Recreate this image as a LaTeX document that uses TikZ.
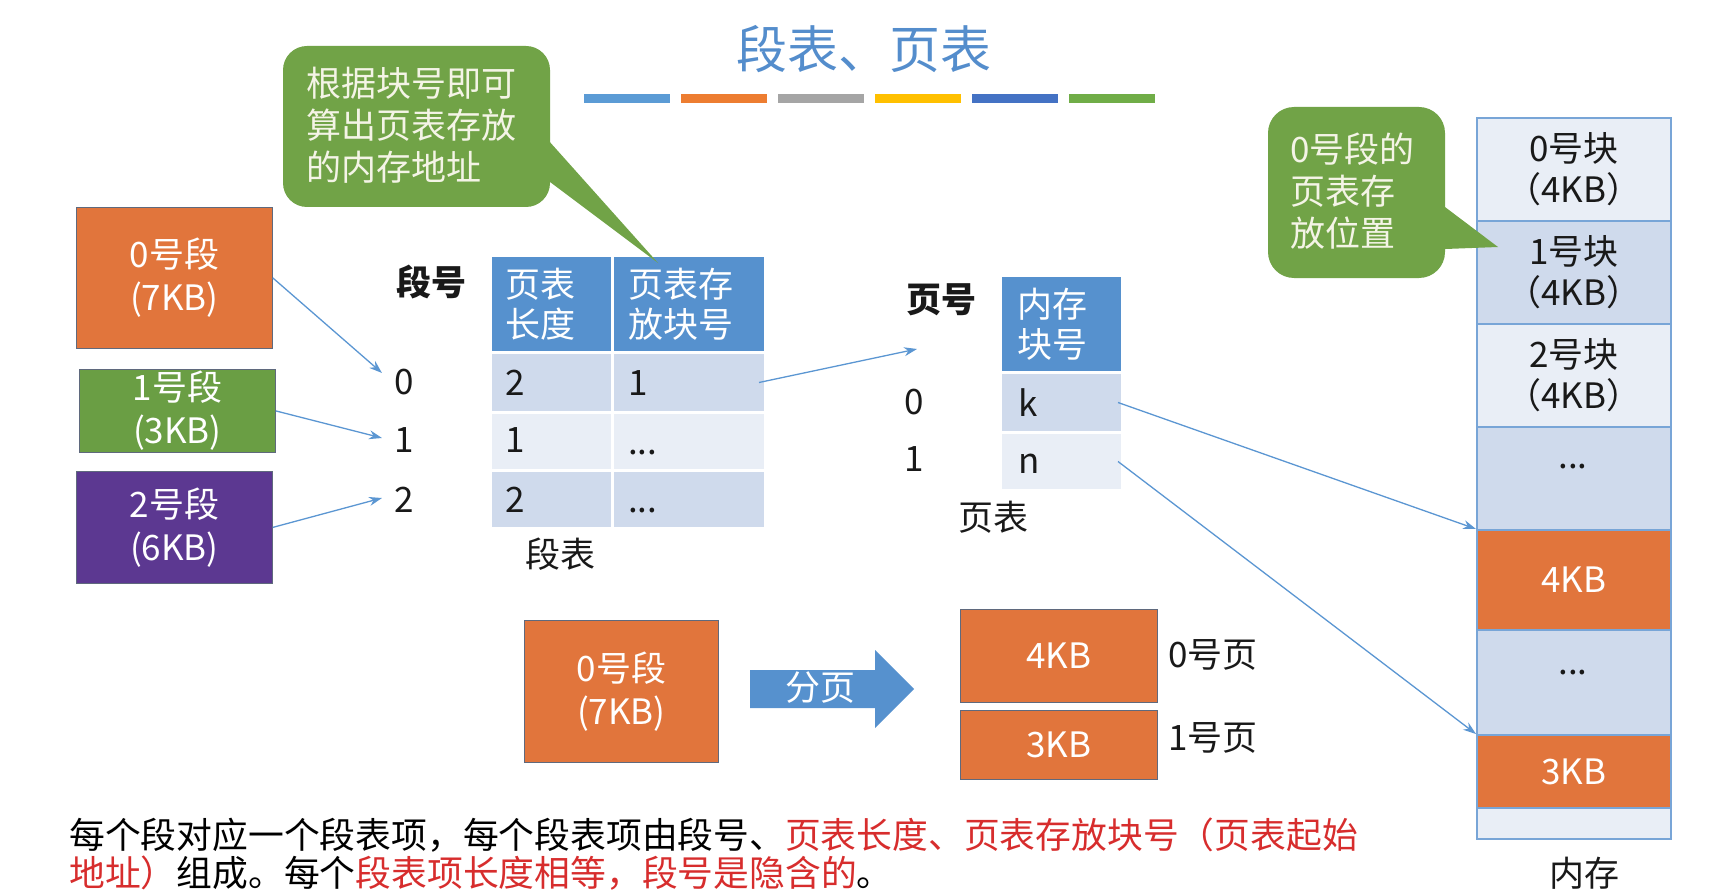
\documentclass[tikz,border=0pt]{standalone}
\usepackage{fontspec}
\setmainfont{Noto Sans CJK SC}
\usetikzlibrary{arrows.meta}
\definecolor{orangeB}{RGB}{225,117,60}
\definecolor{greenC}{RGB}{113,163,71}
\definecolor{greenS}{RGB}{106,158,68}
\definecolor{purpleB}{RGB}{92,56,145}
\definecolor{hdr}{RGB}{86,145,206}
\definecolor{rowD}{RGB}{207,218,236}
\definecolor{rowL}{RGB}{233,238,246}
\definecolor{memline}{RGB}{120,165,215}
\definecolor{arrowc}{RGB}{91,150,210}
\definecolor{titlec}{RGB}{84,141,204}
\definecolor{redt}{RGB}{215,45,45}
\definecolor{barA}{RGB}{91,155,213}
\definecolor{barB}{RGB}{237,125,49}
\definecolor{barC}{RGB}{165,165,165}
\definecolor{barD}{RGB}{255,192,0}
\definecolor{barE}{RGB}{68,114,196}
\definecolor{barF}{RGB}{112,173,71}
\definecolor{calltext}{RGB}{244,244,230}
\definecolor{inkc}{RGB}{25,25,25}
\definecolor{boxedge}{RGB}{95,105,125}
\begin{document}
\begin{tikzpicture}[x=1pt,y=-1pt,
  txt/.style={font=\fontsize{35pt}{42pt}\selectfont, inner sep=0pt, text=inkc},
  wtxt/.style={txt, text=white, align=center},
  segbox/.style={anchor=north west, inner sep=0pt, draw=boxedge, line width=0.8pt, font=\fontsize{35pt}{43pt}\selectfont, text=white, align=center},
  cellbox/.style={anchor=north west, inner sep=0pt, draw=white, line width=3pt},
  memblk/.style={anchor=north west, inner sep=0pt, draw=memline, line width=2pt, minimum width=194pt, font=\fontsize{35pt}{41pt}\selectfont, align=center, text=inkc},
  conn/.style={draw=arrowc, line width=1.3pt, -{Stealth[length=13pt,width=9pt]}},
  calltxt/.style={txt, text=calltext, align=left, anchor=west},
  barln/.style={line width=9pt},
  btxt/.style={font=\fontsize{35.8pt}{38pt}\selectfont, inner sep=0pt, text=black, anchor=west}
]
\useasboundingbox (0,0) rectangle (1711,896);

% title and bars
\node[font=\fontsize{51pt}{60pt}\selectfont, text=titlec, inner sep=0pt] (title) at (864,49) {段表、页表};
\draw[barln, barA] (584,99) -- (670,99);
\draw[barln, barB] (681,99) -- (767,99);
\draw[barln, barC] (778,99) -- (864,99);
\draw[barln, barD] (875,99) -- (961,99);
\draw[barln, barE] (972,99) -- (1058,99);
\draw[barln, barF] (1069,99) -- (1155,99);

% segments
\node[segbox, fill=orangeB, minimum width=196pt, minimum height=141pt] (seg0) at (76,207) {0号段\\(7KB)};
\node[segbox, fill=greenS, minimum width=196pt, minimum height=83pt] (seg1) at (79,369) {1号段\\(3KB)};
\node[segbox, fill=purpleB, minimum width=196pt, minimum height=112pt] (seg2) at (76,471) {2号段\\(6KB)};

% segment number labels
\node[txt, font=\fontsize{35pt}{42pt}\selectfont\bfseries] (dh) at (431,282) {段号};
\node[txt] (l0) at (404,382) {0};
\node[txt] (l1) at (404,440) {1};
\node[txt] (l2) at (404,500) {2};
\coordinate (a0) at (382,373);
\coordinate (a1) at (382,438);
\coordinate (a2) at (382,498);
\draw[conn] (seg0.east) -- (a0);
\draw[conn] (seg1.east) -- (a1);
\draw[conn] (seg2.east) -- (a2);

% segment table
\node[cellbox, fill=hdr, minimum width=122pt, minimum height=97pt] (sh1) at (489,254) {};
\node[cellbox, fill=hdr, minimum width=153pt, minimum height=97pt] (sh2) at (611,254) {};
\node[cellbox, fill=rowD, minimum width=122pt, minimum height=60pt] (s11) at (489,351) {};
\node[cellbox, fill=rowD, minimum width=153pt, minimum height=60pt] (s12) at (611,351) {};
\node[cellbox, fill=rowL, minimum width=122pt, minimum height=58pt] (s21) at (489,411) {};
\node[cellbox, fill=rowL, minimum width=153pt, minimum height=58pt] (s22) at (611,411) {};
\node[cellbox, fill=rowD, minimum width=122pt, minimum height=58pt] (s31) at (489,469) {};
\node[cellbox, fill=rowD, minimum width=153pt, minimum height=58pt] (s32) at (611,469) {};
\node[txt, text=white, align=left, anchor=west, font=\fontsize{35pt}{40pt}\selectfont] (sh1t) at ([xshift=16pt]sh1.west) {页表\\长度};
\node[txt, text=white, align=left, anchor=west, font=\fontsize{35pt}{40pt}\selectfont] (sh2t) at ([xshift=17pt]sh2.west) {页表存\\放块号};
\node[txt, anchor=west] (s11t) at (505,383) {2};
\node[txt, anchor=west] (s12t) at (628,383) {1};
\node[txt, anchor=west] (s21t) at (505,440) {1};
\node[txt, anchor=base west] (s22t) at (628,454) {...};
\node[txt, anchor=west] (s31t) at (505,500) {2};
\node[txt, anchor=base west] (s32t) at (628,512) {...};
\node[txt] (stl) at (560,554) {段表};

% page table
\coordinate (pt) at (917,349);
\draw[conn] ([xshift=-8pt]s12.east) -- (pt);
\node[txt, font=\fontsize{35pt}{42pt}\selectfont\bfseries] (ph) at (941,300) {页号};
\node[cellbox, fill=hdr, minimum width=122pt, minimum height=97pt] (ph1) at (999,274) {};
\node[cellbox, fill=rowD, minimum width=122pt, minimum height=60pt] (pk) at (999,371) {};
\node[cellbox, fill=rowL, minimum width=122pt, minimum height=58pt] (pn) at (999,431) {};
\node[txt, text=white, align=left, anchor=west, font=\fontsize{35pt}{40pt}\selectfont] (ph1t) at ([xshift=18pt]ph1.west) {内存\\块号};
\node[txt, anchor=base west] (pkt) at (1018,416) {k};
\node[txt, anchor=base west] (pnt) at (1018,473) {n};
\node[txt] (p0) at (914,402) {0};
\node[txt] (p1) at (914,459) {1};
\node[txt] (ptl) at (993,517) {页表};

% memory
\node[memblk, fill=rowL, minimum height=103pt] (m0) at (1476,117) {0号块\\（4KB）};
\node[memblk, fill=rowD, minimum height=103pt] (m1) at (1476,220) {1号块\\（4KB）};
\node[memblk, fill=rowL, minimum height=103pt] (m2) at (1476,323) {2号块\\（4KB）};
\node[memblk, fill=rowD, minimum height=103pt] (m3) at (1476,426) {};
\node[memblk, fill=orangeB, minimum height=100pt, text=white] (m4) at (1476,529) {4KB};
\node[memblk, fill=rowD, minimum height=105pt] (m5) at (1476,629) {};
\node[memblk, fill=orangeB, minimum height=73pt, text=white] (m6) at (1476,734) {3KB};
\node[memblk, fill=rowL, minimum height=31pt] (m7) at (1476,807) {};
\node[txt, anchor=base] (m3t) at (1573,468) {...};
\node[txt, anchor=base] (m5t) at (1573,674) {...};
\node[txt] (memt) at (1584,873) {内存};
\draw[conn] ([xshift=-6pt]pk.east) -- (m4.north west);
\draw[conn] ([xshift=-6pt]pn.east) -- (m6.north west);

% paging illustration
\node[segbox, fill=orangeB, minimum width=194pt, minimum height=142pt] (bseg) at (524,620) {0号段\\(7KB)};
\fill[hdr] (750,670) -- (875,670) -- (875,650) -- (914,689) -- (875,728) -- (875,708) -- (750,708) -- cycle;
\node[txt, text=white] (fy) at (820,688) {分页};
\node[segbox, fill=orangeB, minimum width=197pt, minimum height=93pt] (pg0) at (960,609) {4KB};
\node[segbox, fill=orangeB, minimum width=197pt, minimum height=69pt] (pg1) at (960,710) {3KB};
\node[txt] (pg0l) at (1213,655) {0号页};
\node[txt] (pg1l) at (1213,738) {1号页};

% callout 1 (drawn over the table)
\fill[greenC, rounded corners=24pt] (283,46) rectangle (550,207);
\fill[greenC] (540,131) -- (658,263) -- (540,174.5) -- cycle;
\node[calltxt] (c1t) at (306,125) {根据块号即可\\算出页表存放\\的内存地址};

% callout 2 (drawn over the memory)
\fill[greenC, rounded corners=26pt] (1268,107) rectangle (1445,278);
\fill[greenC] (1435,199.5) -- (1498,247) -- (1435,249.4) -- cycle;
\node[calltxt] (c2t) at (1290,191) {0号段的\\页表存\\放位置};

% bottom text
\node[btxt] (bt1) at (69,835) {每个段对应一个段表项，每个段表项由段号、\textcolor{redt}{页表长度、页表存放块号（页表起始}};
\node[btxt] (bt2) at (69,873) {\textcolor{redt}{地址）}组成。每个\textcolor{redt}{段表项长度相等，段号是隐含的}。};
\end{tikzpicture}
\end{document}
